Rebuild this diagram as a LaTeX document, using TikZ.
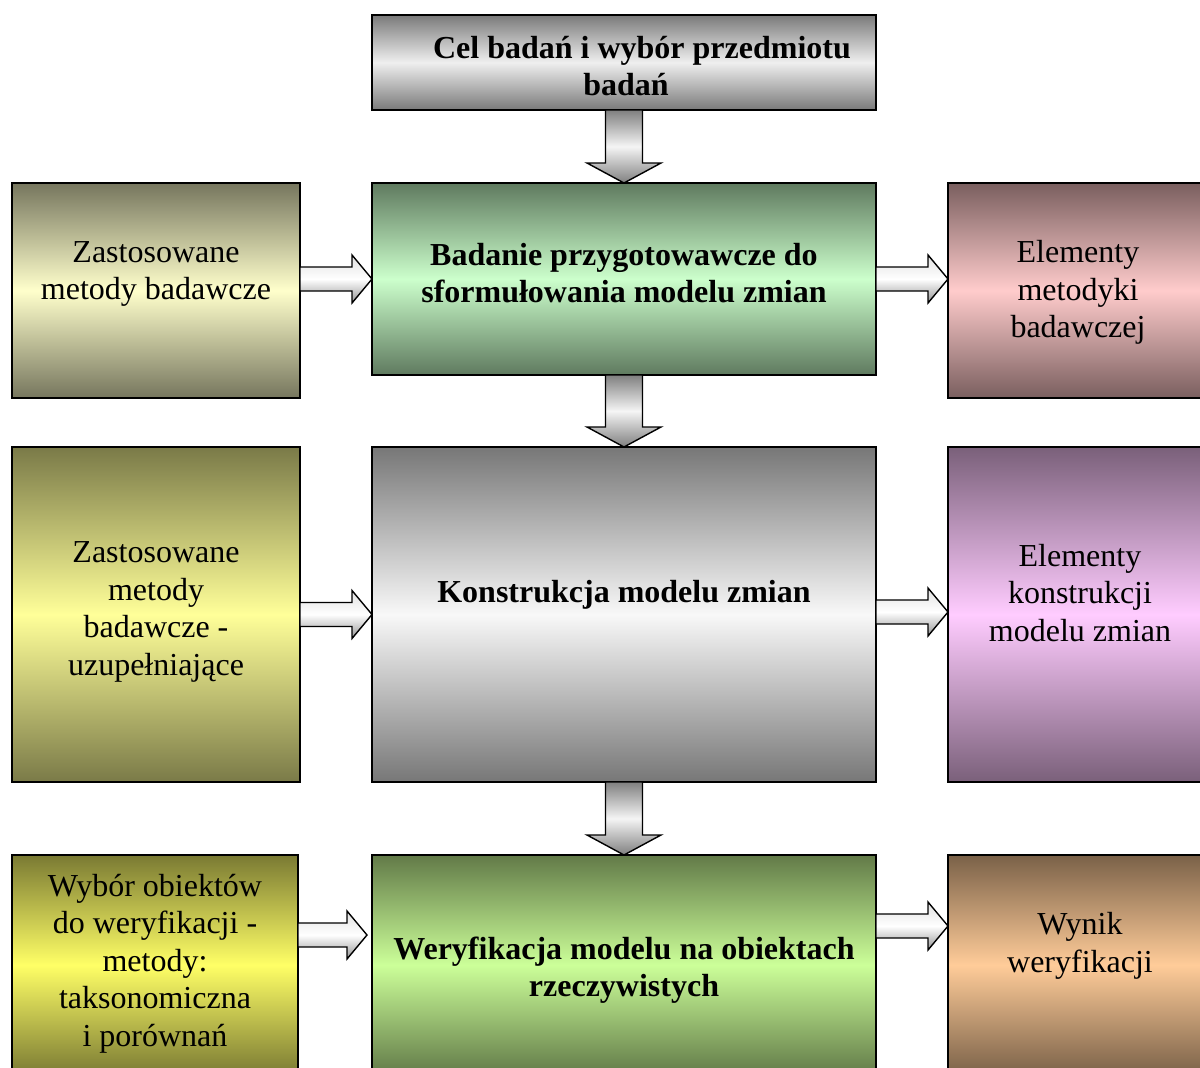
\documentclass[tikz,border=0pt]{standalone}
\usepackage{fontspec}
\setmainfont{Liberation Serif}
\usetikzlibrary{calc}
\definecolor{dTop}{HTML}{7A7A7A}\definecolor{lTop}{HTML}{EFEFEF}
\definecolor{dLa}{HTML}{76765E}\definecolor{lLa}{HTML}{FFFFCC}
\definecolor{dCa}{HTML}{5F7A5F}\definecolor{lCa}{HTML}{CCFFCC}
\definecolor{dRa}{HTML}{7A5F5F}\definecolor{lRa}{HTML}{FFCCCC}
\definecolor{dLb}{HTML}{7A7A48}\definecolor{lLb}{HTML}{FFFF99}
\definecolor{dCb}{HTML}{777777}\definecolor{lCb}{HTML}{F8F8F8}
\definecolor{dRb}{HTML}{7A607A}\definecolor{lRb}{HTML}{FFCCFF}
\definecolor{dLc}{HTML}{7A7A33}\definecolor{lLc}{HTML}{FFFF66}
\definecolor{dCc}{HTML}{627A48}\definecolor{lCc}{HTML}{CCFF99}
\definecolor{dRc}{HTML}{7A6148}\definecolor{lRc}{HTML}{FFCC99}
\tikzset{
  box/.style n args={4}{draw=black, line width=1.8pt, rectangle, inner sep=0pt, outer sep=0pt,
     minimum width=#1, minimum height=#2, top color=#3, bottom color=#3, middle color=#4},
  txt/.style={align=center, inner sep=0pt, font=\fontsize{32}{37.5}\selectfont},
  btxt/.style={txt, font=\fontsize{32}{37.5}\selectfont\bfseries},
  harrow/.style={draw=black, line width=1.4pt, line join=miter, top color=black!12, bottom color=black!42, middle color=white},
  varrow/.style={draw=black, line width=1.4pt, line join=miter, top color=black!50, bottom color=black!50, middle color=black!4},
}
\newcommand\harr[2]{\path[harrow] let \p1=(#1), \p2=(#2) in
  (\x1,\y1+12pt) -- (\x2-20pt,\y1+12pt) -- (\x2-20pt,\y1+24pt) -- (\x2,\y1) --
  (\x2-20pt,\y1-24pt) -- (\x2-20pt,\y1-12pt) -- (\x1,\y1-12pt) -- cycle;}
\newcommand\varr[2]{\path[varrow] let \p1=(#1), \p2=(#2) in
  (\x1-18.5pt,\y1) -- (\x1-18.5pt,\y2+20pt) -- (\x1-37pt,\y2+20pt) -- (\x1,\y2) --
  (\x1+37pt,\y2+20pt) -- (\x1+18.5pt,\y2+20pt) -- (\x1+18.5pt,\y1) -- cycle;}
\begin{document}
\begin{tikzpicture}[x=1pt,y=-1pt]
\useasboundingbox (0,0) rectangle (1200,1068);
\clip (0,0) rectangle (1200,1068);
\fill[white] (0,0) rectangle (1200,1068);
% boxes
\node[box={504pt}{95pt}{dTop}{lTop}] (top) at (624,62.5) {};
\node[box={288pt}{215pt}{dLa}{lLa}] (la) at (156,290.5) {};
\node[box={504pt}{192pt}{dCa}{lCa}] (ca) at (624,279) {};
\node[box={262pt}{215pt}{dRa}{lRa}] (ra) at (1079,290.5) {};
\node[box={288pt}{335pt}{dLb}{lLb}] (lb) at (156,614.5) {};
\node[box={504pt}{335pt}{dCb}{lCb}] (cb) at (624,614.5) {};
\node[box={262pt}{335pt}{dRb}{lRb}] (rb) at (1079,614.5) {};
\node[box={286pt}{220pt}{dLc}{lLc}] (lc) at (155,965) {};
\node[box={504pt}{220pt}{dCc}{lCc}] (cc) at (624,965) {};
\node[box={262pt}{220pt}{dRc}{lRc}] (rc) at (1079,965) {};
% texts
\node[btxt] (ttop) at (626,66) {\hspace*{32pt}Cel badań i wybór przedmiotu\\badań};
\node[txt] (tla) at (156,274) {Zastosowane\\metody badawcze};
\node[btxt] (tca) at (624,273) {Badanie przygotowawcze do\\sformułowania modelu zmian};
\node[txt] (tra) at (1078,292.5) {Elementy\\metodyki\\badawczej};
\node[txt] (tlb) at (156,612) {Zastosowane\\metody\\badawcze -\\uzupełniające};
\node[btxt] (tcb) at (624,595) {Konstrukcja modelu zmian};
\node[txt] (trb) at (1080,593) {Elementy\\konstrukcji\\modelu zmian};
\node[txt] (tlc) at (155,963.5) {Wybór obiektów\\do weryfikacji -\\metody:\\taksonomiczna\\i porównań};
\node[btxt] (tcc) at (624,970) {Weryfikacja modelu na obiektach\\rzeczywistych};
\node[txt] (trc) at (1080,946) {Wynik\\weryfikacji};
% vertical arrows
\varr{top.south}{ca.north}
\varr{ca.south}{cb.north}
\varr{cb.south}{cc.north}
% horizontal arrows
\harr{la.east |- ca.west}{ca.west}
\harr{ca.east}{ra.west |- ca.east}
\harr{lb.east}{cb.west}
\harr{$(cb.east)+(0,-2.5)$}{rb.west}
\harr{$(lc.east)+(0,-30)$}{$(cc.west)+(-5,0)$}
\harr{$(cc.east)+(0,-39)$}{rc.west}
\end{tikzpicture}
\end{document}
